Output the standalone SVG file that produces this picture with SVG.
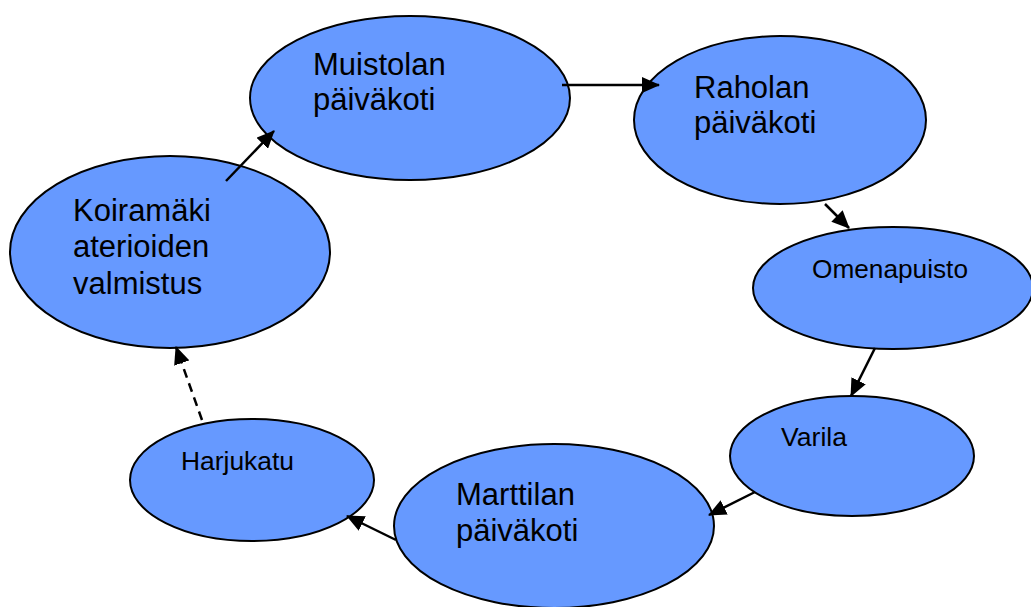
<svg xmlns="http://www.w3.org/2000/svg" width="1031" height="607" viewBox="0 0 1031 607">
  <style>
    .node { fill: #6699FF; stroke: #000000; stroke-width: 2; }
    .big { font-family: "Liberation Sans", Arial, sans-serif; font-size: 31px; fill: #000000; }
    .small { font-family: "Liberation Sans", Arial, sans-serif; font-size: 25px; fill: #000000; }
    .edge { stroke: #000000; stroke-width: 2.5; fill: none; marker-end: url(#arrow); }
    .dashed { stroke-dasharray: 9 6; }
  </style>
  <defs>
    <marker id="arrow" markerUnits="userSpaceOnUse" markerWidth="18" markerHeight="16" refX="17" refY="8" orient="auto">
      <path d="M0,0 L18,8 L0,16 z" fill="#000000"/>
    </marker>
  </defs>

  <rect width="1031" height="607" fill="#FFFFFF"/>

  <g id="muistola">
    <ellipse class="node" cx="410" cy="98" rx="160" ry="82"/>
    <text class="big" x="313" y="75">Muistolan</text>
    <text class="big" x="313" y="110">päiväkoti</text>
  </g>

  <g id="rahola">
    <ellipse class="node" cx="780" cy="120" rx="146" ry="84"/>
    <text class="big" x="694" y="98">Raholan</text>
    <text class="big" x="694" y="133">päiväkoti</text>
  </g>

  <g id="omenapuisto">
    <ellipse class="node" cx="893" cy="288" rx="140" ry="61"/>
    <text class="small" x="812" y="278" textLength="156" lengthAdjust="spacingAndGlyphs">Omenapuisto</text>
  </g>

  <g id="varila">
    <ellipse class="node" cx="852" cy="456" rx="122" ry="60"/>
    <text class="small" x="781" y="446" textLength="66" lengthAdjust="spacingAndGlyphs">Varila</text>
  </g>

  <g id="marttila">
    <ellipse class="node" cx="554" cy="526" rx="160" ry="82"/>
    <text class="big" x="456" y="505">Marttilan</text>
    <text class="big" x="456" y="541">päiväkoti</text>
  </g>

  <g id="harjukatu">
    <ellipse class="node" cx="252" cy="480" rx="122" ry="61"/>
    <text class="small" x="181" y="470" textLength="113" lengthAdjust="spacingAndGlyphs">Harjukatu</text>
  </g>

  <g id="koiramaki">
    <ellipse class="node" cx="170" cy="252" rx="160" ry="96"/>
    <text class="big" x="73" y="221">Koiramäki</text>
    <text class="big" x="73" y="257">aterioiden</text>
    <text class="big" x="73" y="294">valmistus</text>
  </g>

  <g id="connectors">
    <line class="edge" x1="562" y1="85" x2="659" y2="85"/>
    <line class="edge" x1="825" y1="204" x2="849" y2="228"/>
    <line class="edge" x1="875" y1="348" x2="851" y2="396"/>
    <line class="edge" x1="755" y1="492" x2="709" y2="515"/>
    <line class="edge" x1="396" y1="540" x2="347" y2="516"/>
    <line class="edge dashed" x1="202" y1="420" x2="176" y2="347"/>
    <line class="edge" x1="226" y1="181" x2="274" y2="131"/>
  </g>
</svg>
